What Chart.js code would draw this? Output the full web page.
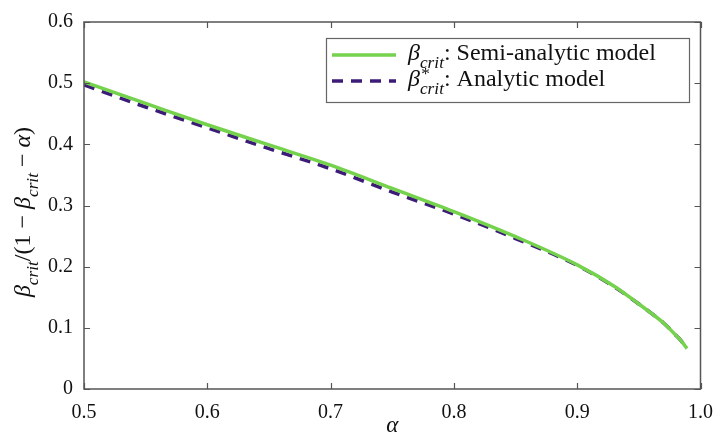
<!DOCTYPE html>
<html><head><meta charset="utf-8">
<script src="https://cdn.jsdelivr.net/npm/chart.js@4/dist/chart.umd.min.js"></script>
<style>html,body{margin:0;padding:0;background:#fff}#wrap{width:717px;height:444px}</style>
</head><body><div id="wrap"><canvas id="c" width="717" height="444"></canvas></div>
<script>
const alpha        = [0.5, 0.55, 0.6, 0.65, 0.7, 0.75, 0.8, 0.85, 0.9, 0.93, 0.95, 0.96, 0.97, 0.98, 0.985, 0.989];
const semiAnalytic = [0.502, 0.467, 0.432, 0.399, 0.366, 0.328, 0.290, 0.249, 0.203, 0.168, 0.139, 0.124, 0.108, 0.088, 0.077, 0.066];
const analytic     = [0.497, 0.461, 0.427, 0.393, 0.360, 0.322, 0.286, 0.246, 0.202, 0.167, 0.139, 0.124, 0.108, 0.088, 0.077, 0.066];
const xTicks = [0.5, 0.6, 0.7, 0.8, 0.9, 1.0];
const yTicks = [0, 0.1, 0.2, 0.3, 0.4, 0.5, 0.6];
const xTitle = 'α';
const legendLabels = [
  [{t:'β',i:true},{t:'crit',i:true,sub:true},{t:': Semi-analytic model'}],
  [{t:'β',i:true},{t:'*',sup:true},{t:'crit',i:true,sub:true,back:true},{t:': Analytic model'}]
];
const yTitleParts = [{t:'β',i:true},{t:'crit',i:true,sub:true},{t:'/(1 − '},{t:'β',i:true},{t:'crit',i:true,sub:true},{t:' − '},{t:'α',i:true},{t:')'}];

const FONT = '"Liberation Serif", "Times New Roman", serif';
const GREEN = '#74d24c', PURPLE = '#3d1c78';

function richWidth(ctx, parts, size){
  let w=0, supW=0;
  for(const p of parts){
    const s = (p.sub||p.sup)? size*0.72 : size;
    ctx.font = (p.i?'italic ':'')+s+'px '+FONT;
    const pw = ctx.measureText(p.t).width;
    if(p.back){ w = w - supW + Math.max(pw, supW); continue; }
    supW = p.sup? pw : 0;
    w += pw;
  }
  return w;
}
function drawRich(ctx, parts, x, y, size){
  let cx = x, supStart = 0, supW = 0;
  for(const p of parts){
    const s = (p.sub||p.sup)? size*0.72 : size;
    ctx.font = (p.i?'italic ':'')+s+'px '+FONT;
    let dy = 0;
    if(p.sub) dy = size*0.34;
    if(p.sup) dy = -size*0.3;
    let px = p.back ? supStart : cx + (p.sup ? size*0.05 : 0);
    ctx.fillText(p.t, px, y+dy);
    const pw = ctx.measureText(p.t).width;
    if(p.sup){ supStart = cx; supW = pw + size*0.05; }
    if(p.back){ cx = supStart + Math.max(pw, supW); }
    else cx += pw;
  }
  return cx;
}

const framePlugin = {
  id:'frame',
  afterDraw(chart){
    const ctx = chart.ctx, a = chart.chartArea, xs = chart.scales.x, ys = chart.scales.y;
    ctx.save();
    ctx.strokeStyle = '#555'; ctx.lineWidth = 1.5;
    ctx.strokeRect(a.left, a.top, a.right-a.left, a.bottom-a.top);
    ctx.beginPath();
    const tl = 6;
    for(const v of xTicks){
      const px = Math.round(xs.getPixelForValue(v))+0.5;
      ctx.moveTo(px, a.bottom); ctx.lineTo(px, a.bottom-tl);
      ctx.moveTo(px, a.top); ctx.lineTo(px, a.top+tl);
    }
    for(const v of yTicks){
      const py = Math.round(ys.getPixelForValue(v))+0.5;
      ctx.moveTo(a.left, py); ctx.lineTo(a.left+tl, py);
      ctx.moveTo(a.right, py); ctx.lineTo(a.right-tl, py);
    }
    ctx.lineWidth = 1.2; ctx.stroke();

    // legend
    const bx = 326, by = 38, bw = 363, bh = 64;
    ctx.fillStyle = '#fff'; ctx.fillRect(bx, by, bw, bh);
    ctx.strokeStyle = '#666'; ctx.lineWidth = 1.2; ctx.strokeRect(bx+0.5, by+0.5, bw, bh);
    const rows = [55, 81];
    chart.data.datasets.forEach((ds, i)=>{
      ctx.beginPath();
      ctx.strokeStyle = ds.borderColor; ctx.lineWidth = 3.5;
      ctx.setLineDash(ds.borderDash || []);
      ctx.moveTo(332, rows[i]); ctx.lineTo(396, rows[i]); ctx.stroke();
      ctx.setLineDash([]);
      ctx.fillStyle = '#111'; ctx.textBaseline = 'alphabetic'; ctx.textAlign = 'left';
      drawRich(ctx, legendLabels[i], 408, rows[i]+5, 24);
    });

    // y title
    ctx.save();
    ctx.translate(30, 212);
    ctx.rotate(-Math.PI/2);
    ctx.fillStyle = '#111'; ctx.textAlign = 'left';
    const w = richWidth(ctx, yTitleParts, 24);
    drawRich(ctx, yTitleParts, -w/2, 0, 24);
    ctx.restore();
    ctx.restore();
  }
};

new Chart(document.getElementById('c'), {
  type:'line',
  data:{
    datasets:[
      {label:'semi', data: alpha.map((a,i)=>({x:a,y:semiAnalytic[i]})), borderColor:GREEN, borderWidth:3.5, pointRadius:0, cubicInterpolationMode:'monotone', fill:false},
      {label:'analytic', data: alpha.map((a,i)=>({x:a,y:analytic[i]})), borderColor:PURPLE, borderWidth:3.5, borderDash:[11,8], pointRadius:0, cubicInterpolationMode:'monotone', fill:false}
    ]
  },
  options:{
    responsive:false, animation:false, devicePixelRatio:1,
    layout:{padding:{left:0,right:12,top:22,bottom:0}},
    plugins:{legend:{display:false}, tooltip:{enabled:false}},
    scales:{
      x:{type:'linear', min:0.5, max:1.0,
        afterBuildTicks(s){ s.ticks = xTicks.map(v=>({value:v})); },
        afterFit(s){ s.height = 55; },
        grid:{display:false}, border:{display:false},
        ticks:{color:'#111', font:{family:FONT, size:20}, padding:4, maxRotation:0, callback:v=>v.toFixed(1)},
        title:{display:true, text:xTitle, color:'#111', font:{family:FONT, size:23, style:'italic'}, padding:{top:0,bottom:4}}
      },
      y:{min:0, max:0.6,
        afterBuildTicks(s){ s.ticks = yTicks.map(v=>({value:v})); },
        afterFit(s){ s.width = 84; },
        grid:{display:false}, border:{display:false},
        ticks:{color:'#111', font:{family:FONT, size:20}, padding:3, callback:v=> v===0?'0':v.toFixed(1)}
      }
    }
  },
  plugins:[framePlugin]
});
</script></body></html>
